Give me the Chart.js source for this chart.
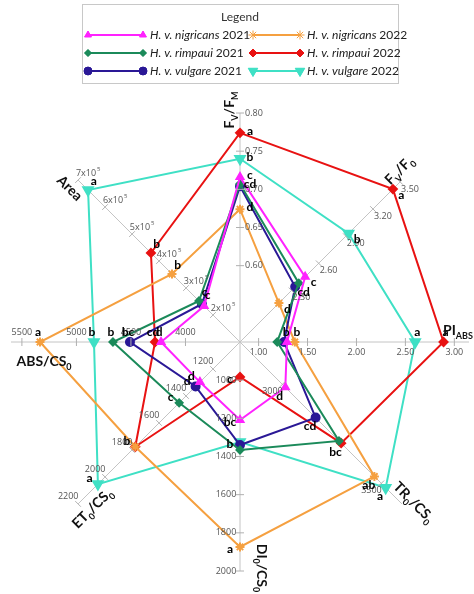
<!DOCTYPE html>
<html><head><meta charset="utf-8">
<script src="https://cdn.jsdelivr.net/npm/chart.js@4.4.0/dist/chart.umd.min.js"></script>
<style>html,body{margin:0;padding:0;background:#fff}#w{width:474px;height:594px}</style>
</head><body><div id="w"><canvas id="c"></canvas></div>
<script>
// axes (clockwise from top)
const axisNames = ['FvFm','FvF0','PI','TR0','DI0','ET0','ABS','Area'];
const axisMin = [0.5, 1.73, 0.81, 2786, 800, 1000, 3500, 1];
const axisMax = [0.80, 3.52, 3.15, 3604, 2000, 2200, 5600, 7];
const axisTicks = [
  [0.60,0.65,0.70,0.75,0.80],
  [2.30,2.60,2.90,3.20,3.50],
  [1.00,1.50,2.00,2.50,3.00],
  [3000,3500],
  [1000,1200,1400,1600,1800,2000],
  [1200,1400,1600,1800,2000,2200],
  [4000,4500,5000,5500],
  [2,3,4,5,6,7]
];
const tickDigits = [2,2,2,0,0,0,0,-1];
// series values (Area in 10^5)
const nig2021 = [0.716, 2.45, 1.29, 3015, 1209, 1297, 4224, 2.33];
const rim2021 = [0.707, 2.38, 1.19, 3286, 1366, 1451, 4665, 2.52];
const vul2021 = [0.704, 2.34, 1.26, 3168, 1340, 1329, 4509, 2.41];
const nig2022 = [0.674, 2.16, 1.37, 3465, 1874, 1776, 5334, 3.52];
const rim2022 = [0.774, 3.42, 2.89, 3297, 983, 1776, 4279, 4.30];
const vul2022 = [0.740, 2.93, 2.60, 3522, 1324, 2053, 4839, 6.63];
// significance letters
const letNig2021 = ['c','c','','d','bc','d','d',''];
const letRim2021 = ['','','','','','c','b','c'];
const letVul2021 = ['cd','cd','b','cd','','d','bc','c'];
const letNig2022 = ['d','d','b','ab','a','b','a','b'];
const letRim2022 = ['a','a','a','bc','c','','cd','b'];
const letVul2022 = ['b','b','a','a','b','a','b','a'];

const norm = v => v.map((x,i)=>(x-axisMin[i])/(axisMax[i]-axisMin[i]));
const series = [
  {label:'H. v. nigricans 2021', v:nig2021, L:letNig2021, color:'#ff22ff', style:'triangle', rot:0, r:4},
  {label:'H. v. rimpaui 2021', v:rim2021, L:letRim2021, color:'#1b8a5a', style:'rectRot', rot:0, r:3.5},
  {label:'H. v. vulgare 2021', v:vul2021, L:letVul2021, color:'#2a1896', style:'circle', rot:0, r:4},
  {label:'H. v. nigricans 2022', v:nig2022, L:letNig2022, color:'#f5a040', style:'star', rot:0, r:4.5},
  {label:'H. v. rimpaui 2022', v:rim2022, L:letRim2022, color:'#e81212', style:'rectRot', rot:0, r:4},
  {label:'H. v. vulgare 2022', v:vul2022, L:letVul2022, color:'#3fe0c5', style:'triangle', rot:180, r:5.5}
];
const letterSide = [1,1,-1,1,1,1,1,1];

function fmtTick(i,t){
  if(tickDigits[i]>=0) return t.toFixed(tickDigits[i]);
  return null;
}
function sub(ctx,parts,x,y){
  let cx=x;
  for(const [t,s] of parts){
    ctx.font = s ? 'bold 9px Lato' : 'bold 14px Lato';
    ctx.fillText(t,cx,y+(s?4:0));
    cx+=ctx.measureText(t).width;
  }
  return cx-x;
}
function widthOf(ctx,parts){let w=0;for(const [t,s] of parts){ctx.font=s?'bold 9px Lato':'bold 14px Lato';w+=ctx.measureText(t).width;}return w;}
const titles = [
  {p:[['F',0],['V',1],['/F',0],['M',1]], x:229,y:110,a:-90},
  {p:[['F',0],['V',1],['/F',0],['0',1]], x:399,y:170,a:-45},
  {p:[['PI',0],['ABS',1]], x:458,y:330,a:0},
  {p:[['TR',0],['0',1],['/CS',0],['0',1]], x:414,y:502,a:45},
  {p:[['DI',0],['0',1],['/CS',0],['0',1]], x:262,y:568,a:90},
  {p:[['ET',0],['0',1],['/CS',0],['0',1]], x:92,y:508,a:-45},
  {p:[['ABS/CS',0],['0',1]], x:44,y:361,a:0},
  {p:[['Area',0]], x:70,y:188,a:45}
];

const deco = {
  id:'deco',
  afterDatasetsDraw(chart){
    const ctx=chart.ctx, sc=chart.scales.r;
    const cx=sc.xCenter, cy=sc.yCenter;
    ctx.save();
    axisTicks.forEach((ts,i)=>{
      const e=sc.getPointPositionForValue(i,1);
      let dx=(e.x-cx),dy=(e.y-cy);const L=Math.hypot(dx,dy);dx/=L;dy/=L;
      const px=-dy,py=dx;
      ts.forEach(t=>{
        const nv=(t-axisMin[i])/(axisMax[i]-axisMin[i]);
        const p=sc.getPointPositionForValue(i,nv);
        ctx.strokeStyle='#b0b0b0';ctx.lineWidth=1;
        ctx.beginPath();ctx.moveTo(p.x-px*4,p.y-py*4);ctx.lineTo(p.x+px*4,p.y+py*4);ctx.stroke();
        ctx.fillStyle='#555';ctx.font='9px "Open Sans"';
        const lx=p.x+px*14, ly=p.y+py*10;
        ctx.textAlign='center';ctx.textBaseline='middle';
        const s=fmtTick(i,t);
        if(s!==null){ctx.fillText(s,lx,ly);}
        else{
          const base=t+'x10';const w=ctx.measureText(base).width;
          ctx.textAlign='left';ctx.fillText(base,lx-w/2-2,ly);
          ctx.font='6px "Open Sans"';ctx.fillText('5',lx+w/2-1,ly-4);
        }
      });
    });
    ctx.fillStyle='#000';ctx.font='bold 12px Lato';ctx.textAlign='center';ctx.textBaseline='middle';
    series.forEach((s,si)=>{
      const meta=chart.getDatasetMeta(si);
      meta.data.forEach((pt,i)=>{
        const t=s.L[i]; if(!t) return;
        const e=sc.getPointPositionForValue(i,1);
        let dx=(e.x-cx),dy=(e.y-cy);const L=Math.hypot(dx,dy);dx/=L;dy/=L;
        const sd=letterSide[i];
        ctx.fillText(t,pt.x+(-dy)*10*sd+dx*2,pt.y+dx*10*sd+dy*2);
      });
    });
    ctx.fillStyle='#111';ctx.textBaseline='alphabetic';ctx.textAlign='left';
    titles.forEach(T=>{
      ctx.save();ctx.translate(T.x,T.y);ctx.rotate(T.a*Math.PI/180);
      const w=widthOf(ctx,T.p);sub(ctx,T.p,-w/2,5);ctx.restore();
    });
    ctx.strokeStyle='#c8c8c8';ctx.lineWidth=1;ctx.strokeRect(82.5,4.5,316,79);
    ctx.fillStyle='#333';ctx.font='12px Lato';ctx.textAlign='center';ctx.fillText('Legend',240,21);
    series.forEach((s,si)=>{
      const col=si<3?0:1,row=si%3;
      const x0=col?253:88,x1=col?300:143,y=35+row*18;
      ctx.strokeStyle=s.color;ctx.lineWidth=2;ctx.beginPath();ctx.moveTo(x0,y);ctx.lineTo(x1,y);ctx.stroke();
      [x0,x1].forEach(x=>{
        ctx.fillStyle=s.color;ctx.strokeStyle=s.color;ctx.lineWidth=1;
        Chart.helpers.drawPoint(ctx,{pointStyle:s.style,radius:s.r,rotation:s.rot,borderWidth:1},x,y);
        ctx.fill();
      });
      const m=s.label.match(/^(.*) (\d+)$/);
      ctx.fillStyle='#222';ctx.textAlign='left';ctx.textBaseline='middle';
      ctx.font='italic 12px Lato';ctx.fillText(m[1],x1+7,y);
      const w=ctx.measureText(m[1]+' ').width;
      ctx.font='12px Lato';ctx.fillText(m[2],x1+7+w,y);
    });
    ctx.restore();
  }
};

new Chart(document.getElementById('c'),{
  type:'radar',
  data:{labels:axisNames,datasets:series.map(s=>({
    label:s.label,data:norm(s.v),borderColor:s.color,backgroundColor:s.color,
    pointBackgroundColor:s.color,pointBorderColor:s.color,pointStyle:s.style,pointRotation:s.rot,
    pointRadius:s.r,borderWidth:2,fill:false,tension:0
  }))},
  options:{
    responsive:true,maintainAspectRatio:false,animation:false,
    layout:{padding:{left:11,right:5,top:113,bottom:23}},
    plugins:{legend:{display:false},tooltip:{enabled:false}},
    scales:{r:{min:0,max:1,ticks:{display:false},grid:{display:false},
      angleLines:{color:'#c4c4c4',lineWidth:1},pointLabels:{display:false}}}
  },
  plugins:[deco]
});
</script></body></html>
